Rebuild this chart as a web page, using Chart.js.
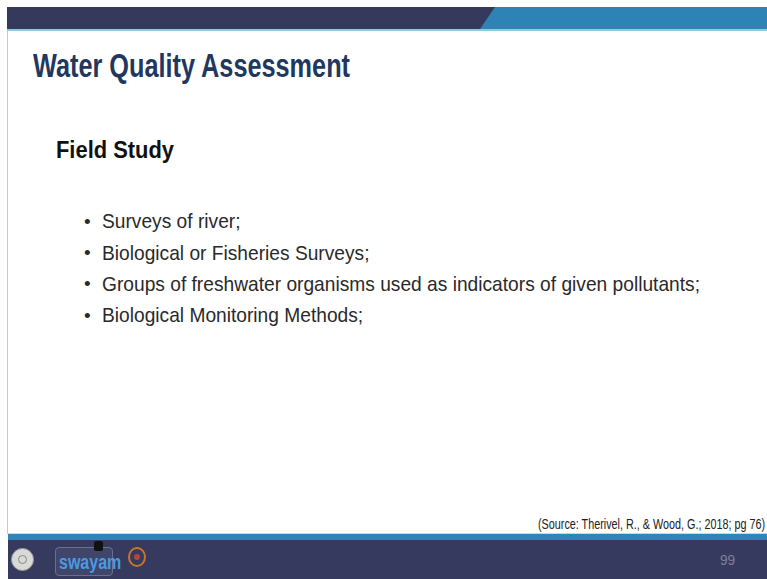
<!DOCTYPE html>
<html>
<head>
<meta charset="utf-8">
<script src="https://cdn.jsdelivr.net/npm/chart.js@4.4.1/dist/chart.umd.min.js"></script>
<style>
  html, body { margin:0; padding:0; }
  body { width:767px; height:579px; position:relative; overflow:hidden; background:#ffffff; font-family:"Liberation Sans", Arial, sans-serif; }
  .abs { position:absolute; white-space:nowrap; line-height:1; transform-origin:0 0; }
  #topDark { left:7px; top:7px; width:760px; height:22px; background:#353a5d; }
  #topBlue { left:7px; top:7px; width:760px; height:22px; background:#2d83b3; clip-path: polygon(488px 0, 760px 0, 760px 22px, 473px 22px); }
  #topLine { left:7px; top:29px; width:760px; height:2px; background:#8cc9e3; }
  #leftLine { left:7px; top:31px; width:1px; height:503px; background:#c9c9c9; }
  #botGrey { left:8px; top:533px; width:759px; height:1px; background:#cfd6dd; }
  #botBlue { left:8px; top:534px; width:759px; height:6px; background:#2e86b8; }
  #botDark { left:8px; top:540px; width:759px; height:39px; background:#363a5e; }
  #title { left:33px; top:49px; font-size:33px; font-weight:bold; color:#22375f; }
  #sub { left:56px; top:138.5px; font-size:23px; font-weight:bold; color:#111111; }
  .bullet { font-size:21px; color:#2a2a2a; }
  .dot { font-size:19px; color:#2a2a2a; }
  #source { left:538px; top:517px; font-size:14px; color:#222222; }
  #page { left:720px; top:552px; font-size:15px; color:#7c809a; }
  #logo1 { left:11px; top:548px; width:23px; height:23px; border-radius:50%; background:#d9d9d6; border:1px solid #9a9a9a; box-sizing:border-box; }
  #logo1 div { position:absolute; left:6px; top:6px; width:9px; height:9px; border-radius:50%; border:1px solid #888; box-sizing:border-box; }
  #logo2 { left:55px; top:547px; width:58px; height:29px; border:1px solid #6a6f90; border-radius:4px; box-sizing:border-box; background:#40456a; }
  #logo2 span { position:absolute; left:3px; top:4px; font-size:20px; font-weight:bold; color:#4a9ae0; line-height:1; transform:scaleX(0.8); transform-origin:0 0; }
  #logo2cap { left:94px; top:541px; width:9px; height:10px; background:#111; border-radius:2px; }
  #logo3 { left:128px; top:547px; width:18px; height:20px; border-radius:50%; border:2px solid #c8752c; box-sizing:border-box; }
  #logo3 div { position:absolute; left:4px; top:5px; width:6px; height:6px; border-radius:50%; background:#b0473a; }
  #chartBox { position:absolute; left:0; top:0; width:767px; height:579px; pointer-events:none; }
</style>
</head>
<body>
<div class="abs" id="topDark"></div>
<div class="abs" id="topBlue"></div>
<div class="abs" id="topLine"></div>
<div class="abs" id="leftLine"></div>
<div class="abs" id="botGrey"></div>
<div class="abs" id="botBlue"></div>
<div class="abs" id="botDark"></div>
<div class="abs" id="logo1"><div></div></div>
<div class="abs" id="logo2"><span>swayam</span></div>
<div class="abs" id="logo2cap"></div>
<div class="abs" id="logo3"><div></div></div>
<div class="abs" id="title"></div>
<div class="abs" id="sub"></div>
<div id="bullets"></div>
<div class="abs" id="source"></div>
<div class="abs" id="page"></div>
<div id="chartBox"><canvas id="c"></canvas></div>
<script>
const slideTitle = "Water Quality Assessment";
const sectionHeading = "Field Study";
const bulletItems = [
  "Surveys of river;",
  "Biological or Fisheries Surveys;",
  "Groups of freshwater organisms used as indicators of given pollutants;",
  "Biological Monitoring Methods;"
];
const sourceNote = "(Source: Therivel, R., & Wood, G.; 2018; pg 76)";
const pageNumber = "99";

function fitWidth(el, target) {
  el.style.transform = "none";
  const w = el.getBoundingClientRect().width;
  const s = target / w;
  el.style.transform = "scaleX(" + s + ")";
  return s;
}

const t = document.getElementById("title");
t.textContent = slideTitle;
fitWidth(t, 317);

const sub = document.getElementById("sub");
sub.textContent = sectionHeading;
fitWidth(sub, 118);

const box = document.getElementById("bullets");
const lineTops = [210.2, 241.5, 272.8, 304.1];
const els = [];
bulletItems.forEach((txt, i) => {
  const d = document.createElement("div");
  d.className = "abs dot";
  d.style.left = "84px";
  d.style.top = (lineTops[i] + 1.5) + "px";
  d.textContent = "\u2022";
  box.appendChild(d);
  const e = document.createElement("div");
  e.className = "abs bullet";
  e.style.left = "102px";
  e.style.top = lineTops[i] + "px";
  e.textContent = txt;
  box.appendChild(e);
  els.push(e);
});
const bulletScale = fitWidth(els[2], 598);
els.forEach(e => e.style.transform = "scaleX(" + bulletScale + ")");

const src = document.getElementById("source");
src.textContent = sourceNote;
fitWidth(src, 227);

const pg = document.getElementById("page");
pg.textContent = pageNumber;
pg.style.transform = "scaleX(" + bulletScale + ")";

// Chart.js canvas layer (the slide has no data marks; axes hidden)
new Chart(document.getElementById("c"), {
  type: "bar",
  data: { labels: [], datasets: [] },
  options: {
    responsive: false,
    animation: false,
    plugins: { legend: { display: false }, tooltip: { enabled: false } },
    scales: { x: { display: false }, y: { display: false } }
  }
});
</script>
</body>
</html>
